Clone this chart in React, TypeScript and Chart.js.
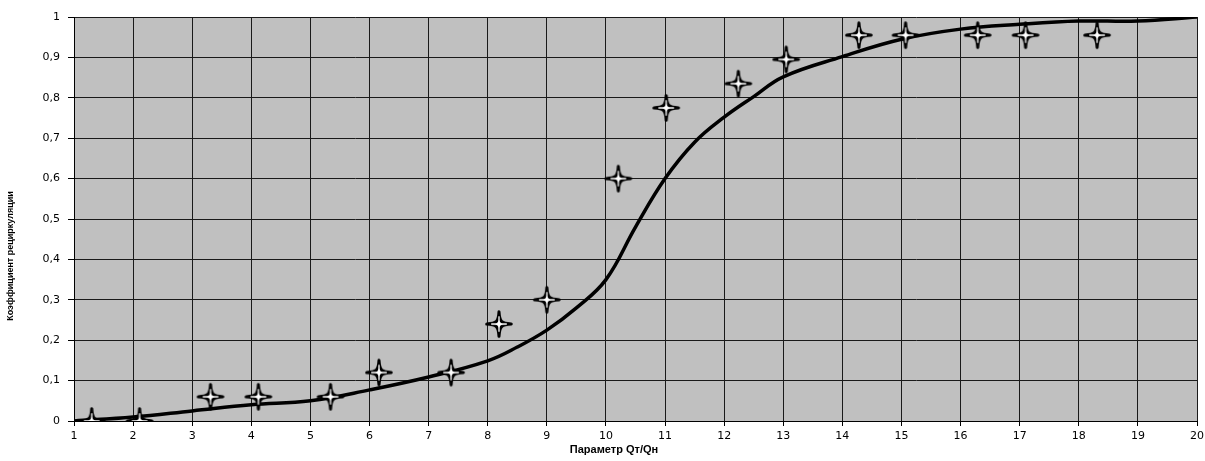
import { useEffect, useRef } from 'react';
import { Chart, registerables } from 'chart.js';

Chart.register(...registerables);

// Smooth curve (model)
const curveX = [1, 2, 3, 4, 5, 6, 7, 8, 8.5, 9, 9.5, 10, 10.5, 11, 11.5, 12, 12.5, 13, 14, 15, 16, 17, 18, 19, 20];
const curveY = [0, 0.01, 0.025, 0.04, 0.05, 0.077, 0.109, 0.149, 0.183, 0.225, 0.28, 0.35, 0.48, 0.6, 0.69, 0.752, 0.803, 0.852, 0.902, 0.945, 0.97, 0.982, 0.99, 0.99, 1.0];

// Experimental points (stars)
const starX = [1.3, 2.11, 3.31, 4.12, 5.34, 6.16, 7.38, 8.19, 9.0, 10.21, 11.02, 12.24, 13.05, 14.28, 15.07, 16.29, 17.1, 18.31];
const starY = [0, 0, 0.06, 0.06, 0.06, 0.12, 0.12, 0.24, 0.3, 0.6, 0.775, 0.835, 0.895, 0.955, 0.955, 0.955, 0.955, 0.955];

const yTickLabels = ['0', '0,1', '0,2', '0,3', '0,4', '0,5', '0,6', '0,7', '0,8', '0,9', '1'];
const xTickLabels = ['1', '2', '3', '4', '5', '6', '7', '8', '9', '10', '11', '12', '13', '14', '15', '16', '17', '18', '19', '20'];

const xTitle = 'Параметр Qт/Qн';
const yTitle = 'Коэффициент рециркуляции';

function makeStar(): HTMLCanvasElement {
  const s = 32;
  const c = document.createElement('canvas');
  c.width = s;
  c.height = s;
  const ctx = c.getContext('2d')!;
  const m = s / 2;
  const r = 12.3;
  const a = 0.6;
  const b = 2.2;
  ctx.beginPath();
  ctx.moveTo(m, m - r);
  ctx.bezierCurveTo(m + a, m - b, m + b, m - a, m + r, m);
  ctx.bezierCurveTo(m + b, m + a, m + a, m + b, m, m + r);
  ctx.bezierCurveTo(m - a, m + b, m - b, m + a, m - r, m);
  ctx.bezierCurveTo(m - b, m - a, m - a, m - b, m, m - r);
  ctx.closePath();
  ctx.fillStyle = '#ffffff';
  ctx.fill();
  ctx.lineWidth = 3;
  ctx.lineJoin = 'round';
  ctx.strokeStyle = '#000000';
  ctx.stroke();
  // thin white core
  ctx.beginPath();
  ctx.moveTo(m, m - r + 4.5);
  ctx.lineTo(m, m + r - 4.5);
  ctx.moveTo(m - r + 4.5, m);
  ctx.lineTo(m + r - 4.5, m);
  ctx.lineWidth = 1.3;
  ctx.strokeStyle = '#ffffff';
  ctx.stroke();
  return c;
}

const bgPlugin = {
  id: 'plotBg',
  beforeDraw(chart: any) {
    const { ctx, chartArea } = chart;
    ctx.save();
    ctx.fillStyle = '#c0c0c0';
    ctx.fillRect(chartArea.left, chartArea.top, chartArea.right - chartArea.left, chartArea.bottom - chartArea.top);
    ctx.restore();
  },
};

const titlePlugin = {
  id: 'axisTitles',
  afterDraw(chart: any) {
    const { ctx } = chart;
    ctx.save();
    ctx.fillStyle = '#000';
    ctx.textAlign = 'center';
    ctx.textBaseline = 'middle';
    ctx.font = 'bold 11px "Liberation Sans", Arial, sans-serif';
    ctx.fillText(xTitle, 614, 450);
    ctx.translate(11, 256);
    ctx.rotate(-Math.PI / 2);
    ctx.font = 'bold 9px "Liberation Sans", Arial, sans-serif';
    ctx.fillText(yTitle, 0, 0);
    ctx.restore();
  },
};

export default function App() {
  const ref = useRef<HTMLCanvasElement>(null);

  useEffect(() => {
    if (!ref.current) return;
    const star = makeStar();
    const tickFont = { family: '"DejaVu Sans", Arial, sans-serif', size: 11 };
    const chart = new Chart(ref.current, {
      type: 'scatter',
      data: {
        datasets: [
          {
            label: 'points',
            data: starX.map((x, i) => ({ x, y: starY[i] })),
            pointStyle: star as any,
            pointRadius: 12,
            showLine: false,
            order: 0,
          },
          {
            label: 'curve',
            data: curveX.map((x, i) => ({ x, y: curveY[i] })),
            showLine: true,
            borderColor: '#000',
            borderWidth: 3.5,
            pointRadius: 0,
            tension: 0.4,
            fill: false,
            order: 1,
          },
        ],
      },
      options: {
        responsive: false,
        animation: false,
        events: [],
        layout: { autoPadding: false, padding: { left: 0, right: 8, top: 17, bottom: 0 } },
        plugins: {
          legend: { display: false },
          tooltip: { enabled: false },
          title: { display: false },
        },
        scales: {
          x: {
            type: 'linear',
            min: 1,
            max: 20,
            ticks: {
              stepSize: 1,
              color: '#000',
              font: tickFont,
              padding: 4,
              maxRotation: 0,
              autoSkip: false,
              callback: (v: any, i: number) => xTickLabels[i],
            },
            grid: { color: '#1a1a1a', lineWidth: 1, tickLength: 5, tickColor: '#000' },
            border: { color: '#000', width: 1 },
            afterFit(scale: any) {
              scale.height = 40;
              scale.paddingLeft = 0;
              scale.paddingRight = 0;
            },
          },
          y: {
            min: 0,
            max: 1,
            ticks: {
              stepSize: 0.1,
              color: '#000',
              font: tickFont,
              padding: 8,
              callback: (v: any, i: number) => yTickLabels[i],
            },
            grid: { color: '#1a1a1a', lineWidth: 1, tickLength: 6, tickColor: '#000' },
            border: { color: '#000', width: 1 },
            afterFit(scale: any) {
              scale.width = 74;
              scale.paddingTop = 0;
              scale.paddingBottom = 0;
            },
          },
        },
      },
      plugins: [bgPlugin, titlePlugin],
    } as any);
    return () => chart.destroy();
  }, []);

  return (
    <div style={{ position: 'absolute', left: 0, top: 0, width: 1205, height: 461, background: '#fff' }}>
      <canvas ref={ref} width={1205} height={461} style={{ display: 'block' }} />
    </div>
  );
}
